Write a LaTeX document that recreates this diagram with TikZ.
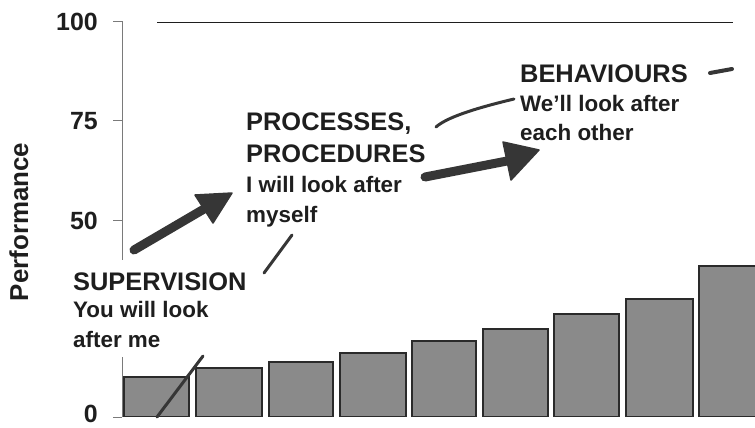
\documentclass[tikz,border=0pt]{standalone}
\usepackage{fontspec}
\setmainfont{Liberation Sans}
\definecolor{ink}{HTML}{1E1E1E}
\definecolor{barfill}{HTML}{8A8A8A}
\definecolor{barline}{HTML}{2A2A2A}
\definecolor{trend}{HTML}{363636}
\definecolor{axisgray}{HTML}{7A7A7A}
\tikzset{
  head/.style={font=\bfseries\fontsize{25.5}{30}\selectfont, text=ink, anchor=base west, inner sep=0pt},
  sub/.style={font=\bfseries\fontsize{22.5}{27}\selectfont, text=ink, anchor=base west, inner sep=0pt},
  ticklabel/.style={font=\bfseries\fontsize{25}{30}\selectfont, text=ink, anchor=east, inner sep=0pt},
  bar/.style={fill=barfill, draw=barline, line width=1.8bp},
  trendline/.style={draw=trend, line width=3bp, line cap=round},
  shaft/.style={draw=trend, line width=9bp, line cap=round},
  arrowhead/.style={fill=trend, draw=trend, line width=1.5bp, line join=round},
}
\begin{document}
\begin{tikzpicture}[x=1bp,y=-1bp]
\useasboundingbox (0,0) rectangle (755,427);

% axis, interrupted behind the supervision label
\draw[axisgray, line width=0.8bp] (122,21) -- (122,260);
\draw[axisgray, line width=0.8bp] (122,357) -- (122,417);
\foreach \yy/\ty/\lab/\nm in {21/22/100/t100, 120.5/121.5/75/t75, 220/221/50/t50, 417/414/0/t0}{
  \draw[axisgray, line width=0.8bp] (113,\yy) -- (122,\yy);
  \node[ticklabel] (\nm) at (98,\ty) {\lab};
}

% ceiling at 100
\draw[ink, line width=1.6bp] (157,22.5) -- (733,22.5);

% axis title
\node[font=\bfseries\fontsize{26}{30}\selectfont, text=ink, rotate=90, anchor=base, inner sep=0pt]
  (ytitle) at (28,222) {Performance};

% bars
\foreach \xa/\xb/\top/\nm in {124/189/377/b1, 196/262/368/b2, 269/333/362/b3, 340/406/353/b4,
  412/476/341/b5, 483/548/329/b6, 554/619/314/b7, 626/693/299/b8, 699/766/266/b9}{
  \path[bar] (\xa,416.5) rectangle (\xb,\top);
}

% rising trend curve, visible between the labels
\draw[trendline] (157,417) -- (203,356);
\draw[trendline] (264,273) -- (292,235);
\draw[trendline] (436,127) .. controls (446,118) and (472,109) .. (514,99);
\draw[trendline, line width=4bp] (710,73) -- (732,69);

% labels
\node[head] (sup1) at (73,290) {SUPERVISION};
\node[sub]  (sup2) at (73,317) {You will look};
\node[sub]  (sup3) at (73,347) {after me};

\node[head] (pro1) at (246,130) {PROCESSES,};
\node[head] (pro2) at (246,162) {PROCEDURES};
\node[sub]  (pro3) at (246,192) {I will look after};
\node[sub]  (pro4) at (246,222) {myself};

\node[head] (beh1) at (520,82) {BEHAVIOURS};
\node[sub]  (beh2) at (520,111) {We'll look after};
\node[sub]  (beh3) at (520,140) {each other};

% progression arrows: rounded shaft plus triangular head
\coordinate (a1s) at (134,250);
\coordinate (a1b) at (204,209);
\coordinate (a1l) at (195,195);
\coordinate (a1r) at (213,223);
\coordinate (a1t) at (232,193);
\draw[shaft] (a1s) -- (a1b);
\filldraw[arrowhead] (a1l) -- (a1t) -- (a1r) -- cycle;

\coordinate (a2s) at (425,177);
\coordinate (a2b) at (507,161);
\coordinate (a2l) at (503,142);
\coordinate (a2r) at (511,180);
\coordinate (a2t) at (539,150);
\draw[shaft] (a2s) -- (a2b);
\filldraw[arrowhead] (a2l) -- (a2t) -- (a2r) -- cycle;
\end{tikzpicture}
\end{document}
